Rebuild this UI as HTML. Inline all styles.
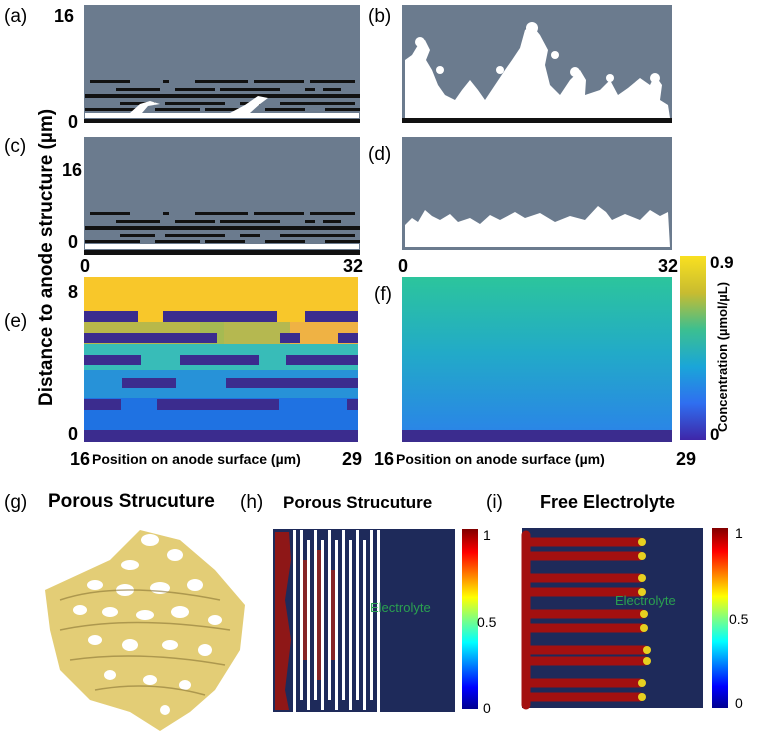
<!DOCTYPE html>
<html><head><meta charset="utf-8"><style>
body{margin:0;background:#fff;width:770px;height:731px;overflow:hidden;font-family:"Liberation Sans",sans-serif}
svg{position:absolute;left:0;top:0}
</style></head><body>
<svg width="770" height="731" viewBox="0 0 770 731" xmlns="http://www.w3.org/2000/svg">
<defs>
<linearGradient id="parula" x1="0" y1="1" x2="0" y2="0">
<stop offset="0" stop-color="#3e26a8"/><stop offset="0.2" stop-color="#2f6ff0"/><stop offset="0.4" stop-color="#1aa6d8"/><stop offset="0.6" stop-color="#3cbf90"/><stop offset="0.8" stop-color="#c8bc30"/><stop offset="1" stop-color="#f9e020"/></linearGradient>
<linearGradient id="jet" x1="0" y1="1" x2="0" y2="0">
<stop offset="0" stop-color="#00008f"/><stop offset="0.12" stop-color="#0000ff"/><stop offset="0.37" stop-color="#00ffff"/><stop offset="0.5" stop-color="#80ff80"/><stop offset="0.62" stop-color="#ffff00"/><stop offset="0.87" stop-color="#ff0000"/><stop offset="1" stop-color="#800000"/></linearGradient>
<linearGradient id="fg" x1="0" y1="0" x2="0" y2="1"><stop offset="0" stop-color="#2cc59c"/><stop offset="0.5" stop-color="#22aac8"/><stop offset="1" stop-color="#2a86e6"/></linearGradient>
</defs>
<!-- (a) -->
<rect x="84" y="5" width="276" height="118" fill="#6b7b8e"/>
<g fill="#111">
<rect x="90" y="80" width="40" height="3"/><rect x="163" y="80" width="6" height="3"/><rect x="195" y="80" width="53" height="3"/><rect x="254" y="80" width="50" height="3"/><rect x="310" y="80" width="45" height="3"/>
<rect x="116" y="88" width="44" height="3"/><rect x="175" y="88" width="40" height="3"/><rect x="220" y="88" width="60" height="3"/><rect x="305" y="88" width="10" height="3"/><rect x="323" y="88" width="18" height="3"/>
<rect x="85" y="94" width="275" height="4"/>
<rect x="120" y="102" width="35" height="3"/><rect x="165" y="102" width="60" height="3"/><rect x="240" y="102" width="20" height="3"/><rect x="280" y="102" width="75" height="3"/>
<rect x="85" y="108" width="55" height="3"/><rect x="155" y="108" width="45" height="3"/><rect x="205" y="108" width="40" height="3"/><rect x="265" y="108" width="40" height="3"/><rect x="325" y="108" width="35" height="3"/>
<rect x="84" y="119" width="276" height="4"/>
</g>
<g fill="#fff"><rect x="85" y="113" width="274" height="5"/><path d="M130 113 L140 104 L150 101 L160 104 L148 106 L142 113Z"/><path d="M230 113 L245 105 L258 96 L268 98 L260 104 L250 113Z"/></g>
<!-- (c) -->
<rect x="84" y="137" width="276" height="118" fill="#6b7b8e"/>
<g fill="#111" transform="translate(0,132)">
<rect x="90" y="80" width="40" height="3"/><rect x="163" y="80" width="6" height="3"/><rect x="195" y="80" width="53" height="3"/><rect x="254" y="80" width="50" height="3"/><rect x="310" y="80" width="45" height="3"/>
<rect x="116" y="88" width="44" height="3"/><rect x="175" y="88" width="40" height="3"/><rect x="220" y="88" width="60" height="3"/><rect x="305" y="88" width="10" height="3"/><rect x="323" y="88" width="18" height="3"/>
<rect x="85" y="94" width="275" height="4"/>
<rect x="120" y="102" width="35" height="3"/><rect x="165" y="102" width="60" height="3"/><rect x="240" y="102" width="20" height="3"/><rect x="280" y="102" width="75" height="3"/>
<rect x="85" y="108" width="55" height="3"/><rect x="155" y="108" width="45" height="3"/><rect x="205" y="108" width="40" height="3"/><rect x="265" y="108" width="40" height="3"/><rect x="325" y="108" width="35" height="3"/>
<rect x="84" y="118" width="276" height="5"/>
</g>
<rect x="85" y="244" width="274" height="5" fill="#fff"/>
<!-- (b) -->
<rect x="402" y="5" width="270" height="118" fill="#6b7b8e"/>
<g fill="#fff">
<path d="M405 118 L405 60 L412 55 L418 45 L425 40 L430 50 L426 60 L432 70 L438 85 L445 95 L455 100 L462 90 L470 80 L478 90 L485 100 L495 85 L505 70 L512 60 L520 48 L525 30 L532 25 L540 35 L548 50 L545 65 L550 85 L560 95 L570 80 L580 70 L586 80 L585 95 L600 90 L610 80 L618 95 L628 88 L640 78 L650 85 L655 75 L662 85 L660 100 L668 105 L670 118Z"/>
<circle cx="420" cy="42" r="5"/><circle cx="532" cy="28" r="6"/><circle cx="655" cy="78" r="5"/><circle cx="575" cy="72" r="5"/>
<circle cx="440" cy="70" r="4"/><circle cx="500" cy="70" r="4"/><circle cx="555" cy="55" r="4"/><circle cx="610" cy="78" r="4"/>
</g>
<rect x="402" y="118" width="270" height="5" fill="#111"/>
<!-- (d) -->
<rect x="402" y="137" width="270" height="113" fill="#6b7b8e"/>
<path fill="#fff" d="M405 247 L405 225 L412 218 L418 222 L425 210 L432 216 L440 220 L450 214 L458 222 L470 218 L480 224 L490 215 L500 220 L515 212 L525 218 L540 213 L555 222 L570 216 L585 220 L598 206 L606 212 L612 220 L625 214 L640 220 L650 210 L660 216 L668 212 L670 247Z"/>
<g font-size="19" fill="#000">
<text x="4" y="22">(a)</text><text x="368" y="22">(b)</text>
<text x="4" y="152">(c)</text><text x="368" y="160">(d)</text>
<text x="4" y="327">(e)</text><text x="374" y="300">(f)</text>
<text x="4" y="508">(g)</text><text x="240" y="508">(h)</text><text x="486" y="508">(i)</text>
</g>
<g font-weight="bold" font-size="18">
<text x="54" y="22">16</text><text x="68" y="128">0</text>
<text x="62" y="176">16</text><text x="68" y="248">0</text>
<text x="80" y="272">0</text><text x="343" y="272">32</text>
<text x="398" y="272">0</text><text x="658" y="272">32</text>
<text x="68" y="298">8</text><text x="68" y="440">0</text>
</g>
<!-- (e) -->
<rect x="84" y="277" width="274" height="50" fill="#f8c72a"/>
<rect x="84" y="322" width="274" height="22" fill="#efb244"/>
<rect x="84" y="322" width="140" height="22" fill="#b8b84a"/>
<rect x="200" y="322" width="90" height="50" fill="#9cba55" opacity="0.7"/>
<rect x="84" y="344" width="274" height="28" fill="#38bcb8"/>
<rect x="84" y="370" width="274" height="30" fill="#2792d8"/>
<rect x="84" y="398" width="274" height="34" fill="#1f72e2"/>
<g fill="#3b2c8e">
<rect x="84" y="311" width="54" height="11"/><rect x="163" y="311" width="114" height="11"/><rect x="305" y="311" width="53" height="11"/>
<rect x="84" y="333" width="133" height="10"/><rect x="280" y="333" width="20" height="10"/><rect x="338" y="333" width="20" height="10"/>
<rect x="84" y="355" width="57" height="10"/><rect x="180" y="355" width="79" height="10"/><rect x="286" y="355" width="72" height="10"/>
<rect x="122" y="378" width="54" height="10"/><rect x="226" y="378" width="132" height="10"/>
<rect x="84" y="399" width="37" height="11"/><rect x="157" y="399" width="122" height="11"/><rect x="347" y="399" width="11" height="11"/>
<rect x="84" y="430" width="274" height="12"/>
</g>
<!-- (f) -->
<rect x="402" y="277" width="270" height="153" fill="url(#fg)"/>
<rect x="402" y="430" width="270" height="12" fill="#3b2c8e"/>
<rect x="680" y="256" width="26" height="184" fill="url(#parula)"/>
<g font-weight="bold" font-size="17"><text x="710" y="268">0.9</text><text x="710" y="440">0</text></g>
<text transform="translate(727,432) rotate(-90)" font-size="13" font-weight="bold">Concentration (µmol/µL)</text>
<text transform="translate(52,406) rotate(-90)" font-size="19" font-weight="bold">Distance to anode structure (µm)</text>
<g font-weight="bold"><text x="70" y="465" font-size="18">16</text><text x="92" y="464" font-size="14">Position on anode surface (µm)</text><text x="342" y="465" font-size="18">29</text>
<text x="374" y="465" font-size="18">16</text><text x="396" y="464" font-size="14">Position on anode surface (µm)</text><text x="676" y="465" font-size="18">29</text></g>
<!-- titles -->
<g font-weight="bold"><text x="48" y="507" font-size="19">Porous Strucuture</text><text x="283" y="508" font-size="17">Porous Strucuture</text><text x="540" y="508" font-size="18">Free Electrolyte</text></g>
<!-- (g) foam -->
<path d="M45 590 L110 560 L140 530 L180 540 L215 570 L245 605 L240 650 L215 690 L190 712 L160 731 L130 712 L90 700 L60 670 L50 630Z" fill="#e3cd76"/>
<g fill="#fff">
<ellipse cx="150" cy="540" rx="9" ry="6"/><ellipse cx="175" cy="555" rx="8" ry="6"/><ellipse cx="130" cy="565" rx="9" ry="5"/>
<ellipse cx="95" cy="585" rx="8" ry="5"/><ellipse cx="125" cy="590" rx="9" ry="6"/><ellipse cx="160" cy="588" rx="10" ry="6"/><ellipse cx="195" cy="585" rx="8" ry="6"/>
<ellipse cx="80" cy="610" rx="7" ry="5"/><ellipse cx="110" cy="612" rx="8" ry="5"/><ellipse cx="145" cy="615" rx="9" ry="5"/><ellipse cx="180" cy="612" rx="9" ry="6"/><ellipse cx="215" cy="620" rx="7" ry="5"/>
<ellipse cx="95" cy="640" rx="7" ry="5"/><ellipse cx="130" cy="645" rx="8" ry="6"/><ellipse cx="170" cy="645" rx="8" ry="5"/><ellipse cx="205" cy="650" rx="7" ry="6"/>
<ellipse cx="110" cy="675" rx="6" ry="5"/><ellipse cx="150" cy="680" rx="7" ry="5"/><ellipse cx="185" cy="685" rx="6" ry="5"/><ellipse cx="165" cy="710" rx="5" ry="5"/>
</g>
<g fill="none" stroke="#8a7535" stroke-width="1.5" opacity="0.6">
<path d="M60 600 Q120 580 220 600"/><path d="M60 630 Q130 615 230 630"/><path d="M70 660 Q140 650 225 665"/><path d="M95 690 Q150 680 205 695"/>
</g>
<!-- (h) -->
<rect x="273" y="529" width="182" height="183" fill="#1e2a5a"/>
<path d="M275 532 L289 532 L291 560 L285 600 L291 640 L285 690 L289 710 L275 710Z" fill="#8e1717"/>
<g fill="#fff">
<rect x="293" y="530" width="3" height="182"/>
<rect x="300" y="530" width="3" height="170"/><rect x="307" y="540" width="3" height="170"/><rect x="314" y="530" width="3" height="170"/><rect x="321" y="540" width="3" height="170"/><rect x="328" y="530" width="3" height="170"/><rect x="335" y="540" width="3" height="170"/><rect x="342" y="530" width="3" height="170"/><rect x="349" y="540" width="3" height="170"/><rect x="356" y="530" width="3" height="170"/><rect x="363" y="540" width="3" height="170"/><rect x="370" y="530" width="3" height="170"/><rect x="377" y="530" width="3" height="182"/>
</g>
<g fill="#a0231a" opacity="0.8"><rect x="303" y="560" width="4" height="100"/><rect x="317" y="550" width="4" height="130"/><rect x="331" y="570" width="4" height="90"/></g>
<text x="370" y="612" font-size="13" fill="#2aa050">Electrolyte</text>
<rect x="462" y="529" width="16" height="180" fill="url(#jet)"/>
<g font-size="14"><text x="483" y="540">1</text><text x="477" y="627">0.5</text><text x="483" y="713">0</text></g>
<!-- (i) -->
<rect x="522" y="528" width="181" height="180" fill="#1e2a5a"/>
<g stroke="#a31010" stroke-width="9" stroke-linecap="round">
<line x1="526" y1="542" x2="640" y2="542"/><line x1="526" y1="556" x2="640" y2="556"/>
<line x1="526" y1="578" x2="640" y2="578"/><line x1="526" y1="592" x2="640" y2="592"/>
<line x1="526" y1="614" x2="642" y2="614"/><line x1="526" y1="628" x2="642" y2="628"/>
<line x1="526" y1="650" x2="645" y2="650"/><line x1="526" y1="661" x2="645" y2="661"/>
<line x1="526" y1="683" x2="640" y2="683"/><line x1="526" y1="697" x2="640" y2="697"/>
<line x1="526" y1="535" x2="526" y2="705"/>
</g>
<g fill="#e6d020"><circle cx="642" cy="542" r="4"/><circle cx="642" cy="556" r="4"/><circle cx="642" cy="578" r="4"/><circle cx="642" cy="592" r="4"/><circle cx="644" cy="614" r="4"/><circle cx="644" cy="628" r="4"/><circle cx="647" cy="650" r="4"/><circle cx="647" cy="661" r="4"/><circle cx="642" cy="683" r="4"/><circle cx="642" cy="697" r="4"/></g>
<text x="615" y="605" font-size="13" fill="#2aa050">Electrolyte</text>
<rect x="712" y="528" width="16" height="180" fill="url(#jet)"/>
<g font-size="14"><text x="735" y="538">1</text><text x="729" y="624">0.5</text><text x="735" y="708">0</text></g>
</svg>
</body></html>
